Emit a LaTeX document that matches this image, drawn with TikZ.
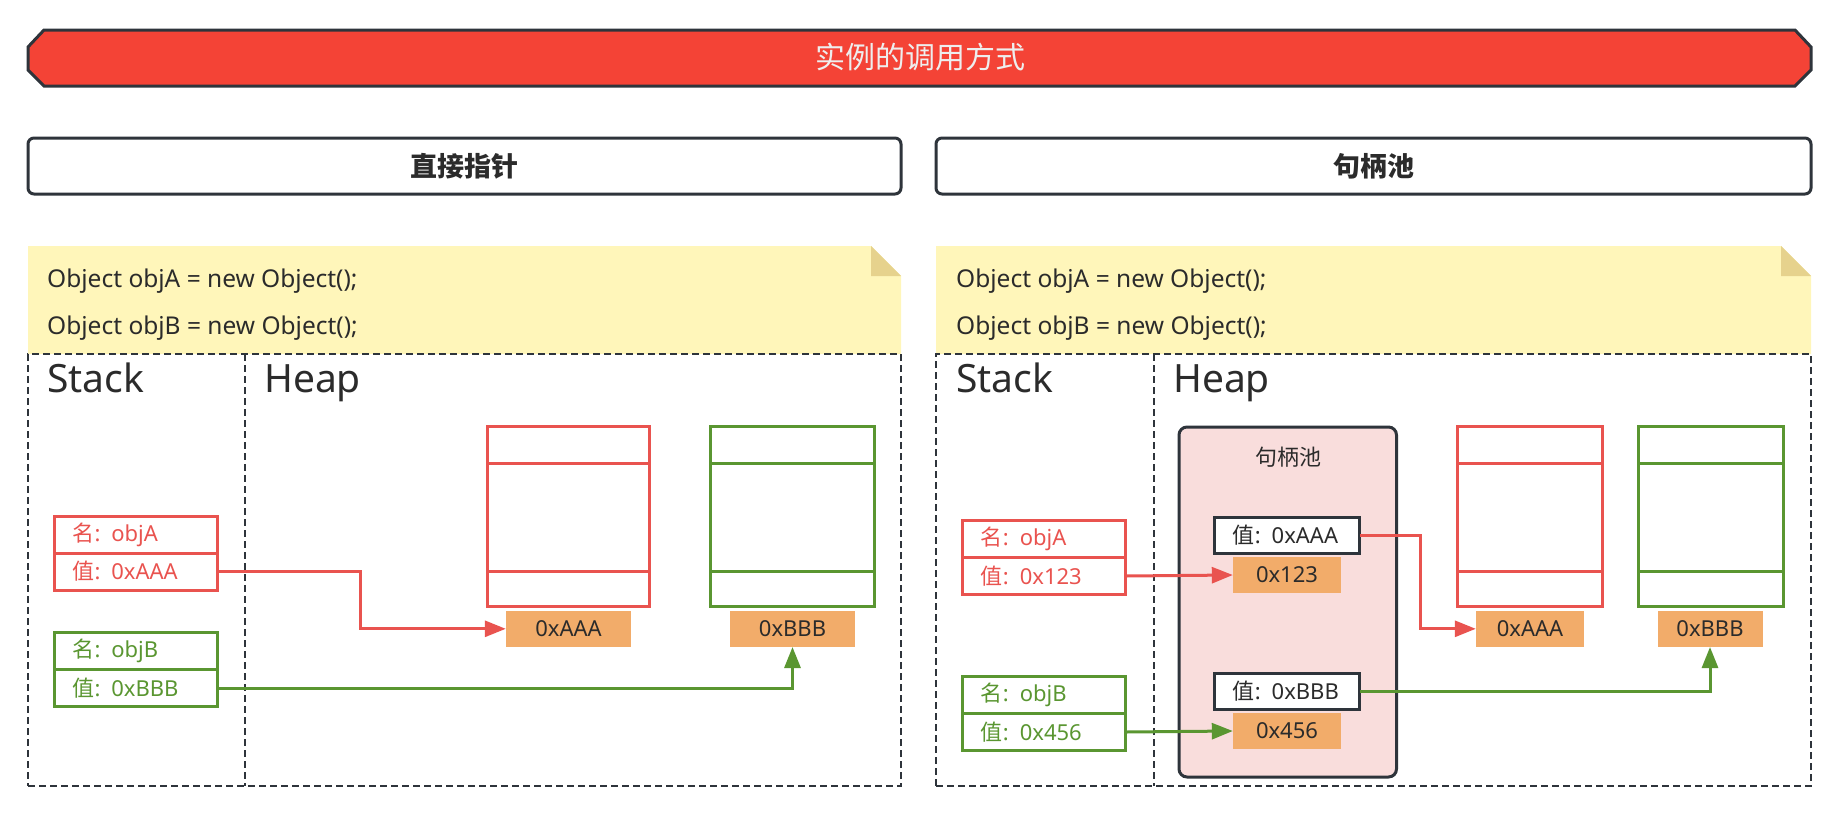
\documentclass[tikz,border=0pt]{standalone}
\usepackage{fontspec}
\setmainfont{Noto Sans}
\newfontfamily\cjk{Noto Sans CJK SC}
\usetikzlibrary{arrows.meta}
\usetikzlibrary{positioning}

\definecolor{bannerred}{HTML}{F44336}
\definecolor{darkline}{HTML}{2E343B}
\definecolor{memred}{HTML}{E9534F}
\definecolor{memgreen}{HTML}{5A9631}
\definecolor{addrorange}{HTML}{F2AC6A}
\definecolor{notefill}{HTML}{FFF6BA}
\definecolor{notefold}{HTML}{E6D28D}
\definecolor{poolpink}{HTML}{F9DDDC}
\definecolor{textdark}{HTML}{2B2B2B}
\definecolor{titletext}{HTML}{EEEEEE}

\begin{document}
\begin{tikzpicture}[x=1pt,y=-1pt]
    \tikzset{
      >={Triangle[length=21pt,width=16pt]},
      txt/.style={font=\fontsize{22}{26}\selectfont},
      cell/.style={txt, rectangle, line width=3pt, outer sep=0pt,
        minimum width=163pt, minimum height=37pt, inner xsep=18pt,
        text width=127pt, align=left},
      redcell/.style={cell, draw=memred, text=memred},
      greencell/.style={cell, draw=memgreen, text=memgreen},
      objrow/.style={rectangle, line width=3pt, outer sep=0pt, inner sep=0pt},
      redrow/.style={objrow, draw=memred},
      greenrow/.style={objrow, draw=memgreen},
      addr/.style={txt, rectangle, fill=addrorange, text=textdark,
        minimum height=36pt, inner sep=0pt},
      handlebox/.style={cell, draw=darkline, fill=white, text=textdark,
        minimum width=145pt, minimum height=36pt, text width=109pt},
      pool/.style={rectangle, rounded corners=8pt, draw=darkline,
        line width=3pt, fill=poolpink},
      heading/.style={rectangle, rounded corners=6pt, draw=darkline,
        line width=3pt, minimum height=56pt, text=textdark,
        font=\cjk\bfseries\fontsize{27}{30}\selectfont},
      framebox/.style={rectangle, draw=darkline, line width=1.6pt,
        dash pattern=on 7pt off 4pt, minimum height=432pt},
      divider/.style={draw=darkline, line width=1.6pt, dash pattern=on 7pt off 4pt},
      area/.style={anchor=base west, inner sep=0pt, text=textdark,
        font=\fontsize{39}{42}\selectfont},
      code/.style={anchor=base west, inner sep=0pt, text=textdark,
        font=\fontsize{24.5}{28}\selectfont},
      redarrow/.style={->, draw=memred, line width=3pt},
      greenarrow/.style={->, draw=memgreen, line width=3pt},
    }
    \useasboundingbox (0,0) rectangle (1840,815);

    % banner
    \filldraw[fill=bannerred, draw=darkline, line width=3pt]
      (44,30) -- (1795,30) -- (1811,47) -- (1811,70) -- (1795,86)
      -- (44,86) -- (28,70) -- (28,47) -- cycle;
    \node[text=titletext, font=\cjk\fontsize{30}{34}\selectfont] (title) at (920,57) {实例的调用方式};

    \node[heading, minimum width=873pt] (direct) at (464.5,166) {直接指针};
    \node[heading, minimum width=875pt] (handle) at (1373.5,166) {句柄池};

    % notes
    \fill[notefill] (28,246) -- (871,246) -- (901,276) -- (901,354) -- (28,354) -- cycle;
    \fill[notefold] (871,246) -- (871,276) -- (901,276) -- cycle;
    \fill[notefill] (936,246) -- (1781,246) -- (1811,276) -- (1811,354) -- (936,354) -- cycle;
    \fill[notefold] (1781,246) -- (1781,276) -- (1811,276) -- cycle;
    \node[code] (l-code1) at (47,287) {Object objA = new Object();};
    \node[code] (l-code2) at (47,334) {Object objB = new Object();};
    \node[code] (r-code1) at (956,287) {Object objA = new Object();};
    \node[code] (r-code2) at (956,334) {Object objB = new Object();};

    % frames
    \node[framebox, minimum width=873pt] (l-frame) at (464.5,570) {};
    \node[framebox, minimum width=875pt] (r-frame) at (1373.5,570) {};
    \draw[divider] (245,354) -- (245,786);
    \draw[divider] (1154,354) -- (1154,786);
    \node[area] (l-stack) at (47,392) {Stack};
    \node[area] (l-heap) at (264,392) {Heap};
    \node[area] (r-stack) at (956,392) {Stack};
    \node[area] (r-heap) at (1173,392) {Heap};

    % direct pointer
    \node[redcell] (la-name) at (136,534.5) {{\cjk 名}: objA};
    \node[redcell, below=0pt of la-name] (la-val) {{\cjk 值}: 0xAAA};
    \node[greencell] (lb-name) at (136,651) {{\cjk 名}: objB};
    \node[greencell, below=0pt of lb-name] (lb-val) {{\cjk 值}: 0xBBB};

    \node[redrow, minimum width=162pt, minimum height=37.5pt] (lo-a-top) at (568,445) {};
    \node[redrow, minimum width=162pt, minimum height=108pt, below=0pt of lo-a-top] (lo-a-mid) {};
    \node[redrow, minimum width=162pt, minimum height=35pt, below=0pt of lo-a-mid] (lo-a-bot) {};
    \node[addr, minimum width=125pt] (lo-a-addr) at (568.5,628.8) {0xAAA};

    \node[greenrow, minimum width=164pt, minimum height=37.5pt] (lo-b-top) at (792,445) {};
    \node[greenrow, minimum width=164pt, minimum height=108pt, below=0pt of lo-b-top] (lo-b-mid) {};
    \node[greenrow, minimum width=164pt, minimum height=35pt, below=0pt of lo-b-mid] (lo-b-bot) {};
    \node[addr, minimum width=125pt] (lo-b-addr) at (792.5,628.8) {0xBBB};

    \coordinate (la-bend) at (360,628.8);
    \draw[redarrow] (la-val.east) -| (la-bend) -- (lo-a-addr.west);
    \draw[greenarrow] (lb-val.east) -| (lo-b-addr.south);

    % handle pool
    \node[pool, minimum width=217.5pt, minimum height=350pt] (pool) at (1287.75,602) {};
    \node[text=textdark, font=\cjk\fontsize{22}{26}\selectfont] (pool-title) at (1288,457) {句柄池};
    \node[handlebox] (h-a) at (1287.3,535.5) {{\cjk 值}: 0xAAA};
    \node[addr, minimum width=108pt] (h-a-addr) at (1287,575) {0x123};
    \node[handlebox] (h-b) at (1287.3,691) {{\cjk 值}: 0xBBB};
    \node[addr, minimum width=108pt] (h-b-addr) at (1287,731) {0x456};

    \node[redcell] (ra-name) at (1044.4,539) {{\cjk 名}: objA};
    \node[redcell, below=0pt of ra-name] (ra-val) {{\cjk 值}: 0x123};
    \node[greencell] (rb-name) at (1044.4,695) {{\cjk 名}: objB};
    \node[greencell, below=0pt of rb-name] (rb-val) {{\cjk 值}: 0x456};

    \node[redrow, minimum width=145.5pt, minimum height=37.5pt] (ro-a-top) at (1530,445) {};
    \node[redrow, minimum width=145.5pt, minimum height=108pt, below=0pt of ro-a-top] (ro-a-mid) {};
    \node[redrow, minimum width=145.5pt, minimum height=35pt, below=0pt of ro-a-mid] (ro-a-bot) {};
    \node[addr, minimum width=108pt] (ro-a-addr) at (1530,628.8) {0xAAA};

    \node[greenrow, minimum width=145.5pt, minimum height=37.5pt] (ro-b-top) at (1711,445) {};
    \node[greenrow, minimum width=145.5pt, minimum height=108pt, below=0pt of ro-b-top] (ro-b-mid) {};
    \node[greenrow, minimum width=145.5pt, minimum height=35pt, below=0pt of ro-b-mid] (ro-b-bot) {};
    \node[addr, minimum width=105pt] (ro-b-addr) at (1710,628.8) {0xBBB};

    \coordinate (h-bend) at (1420,628.8);
    \draw[redarrow] (ra-val.east) -- (h-a-addr.west);
    \draw[greenarrow] (rb-val.east) -- (h-b-addr.west);
    \draw[redarrow] (h-a.east) -| (h-bend) -- (ro-a-addr.west);
    \draw[greenarrow] (h-b.east) -| (ro-b-addr.south);
\end{tikzpicture}
\end{document}
